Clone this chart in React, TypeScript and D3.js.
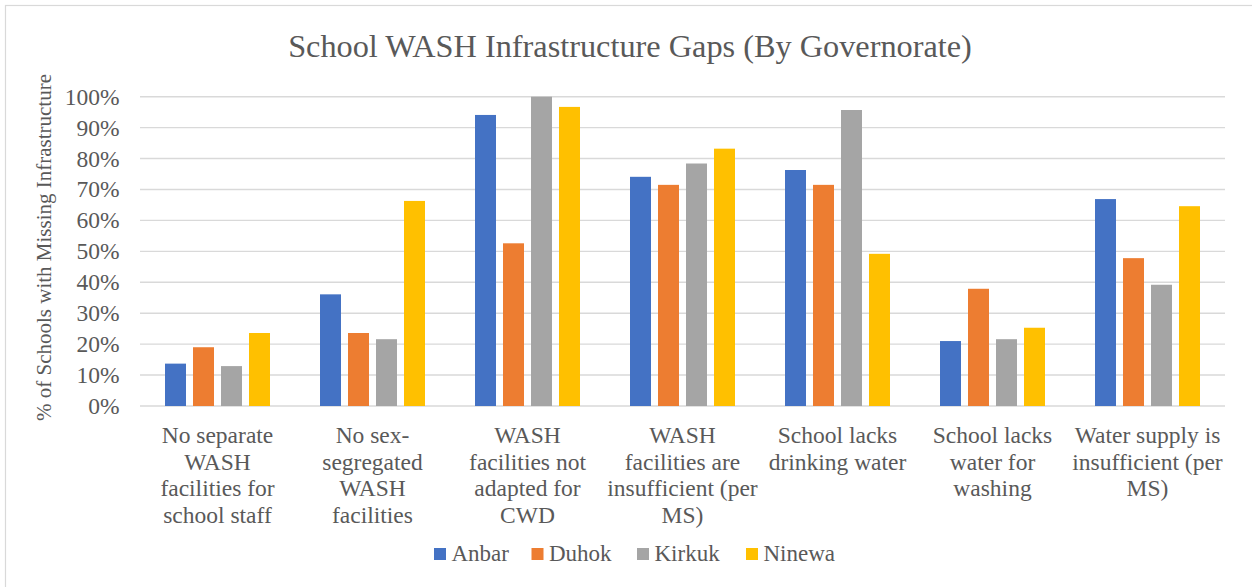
import React from "react";
import * as d3 from "d3";

const categories: string[][] = [
  ["No separate", "WASH", "facilities for", "school staff"],
  ["No sex-", "segregated", "WASH", "facilities"],
  ["WASH", "facilities not", "adapted for", "CWD"],
  ["WASH", "facilities are", "insufficient (per", "MS)"],
  ["School lacks", "drinking water"],
  ["School lacks", "water for", "washing"],
  ["Water supply is", "insufficient (per", "MS)"],
];

const seriesNames = ["Anbar", "Duhok", "Kirkuk", "Ninewa"];
const seriesColors = ["#4472C4", "#ED7D31", "#A5A5A5", "#FFC000"];

const anbar = [0.137, 0.361, 0.941, 0.741, 0.763, 0.21, 0.669];
const duhok = [0.19, 0.236, 0.526, 0.715, 0.715, 0.379, 0.478];
const kirkuk = [0.129, 0.216, 1.0, 0.784, 0.957, 0.216, 0.392];
const ninewa = [0.236, 0.663, 0.967, 0.832, 0.492, 0.253, 0.646];
const seriesValues = [anbar, duhok, kirkuk, ninewa];

const yTicks = [0, 0.1, 0.2, 0.3, 0.4, 0.5, 0.6, 0.7, 0.8, 0.9, 1.0];

const W = 1252;
const H = 587;
const TEXT = "#595959";

function T(props: any) {
  const { children, style, ...rest } = props;
  return (
    <text fontFamily="Times New Roman" style={{ fontFamily: "Times New Roman", ...(style || {}) }} {...rest}>
      {children}
    </text>
  );
}

export default function App() {
  const left = 140;
  const right = 1225;
  const top = 96.7;
  const bottom = 406;

  const catKeys = categories.map((_, i) => String(i));
  const x0 = d3
    .scaleBand<string>()
    .domain(catKeys)
    .range([left, right])
    .paddingInner(0.2774)
    .paddingOuter(0.1387);
  const x1 = d3
    .scaleBand<string>()
    .domain(seriesNames)
    .range([0, x0.bandwidth()])
    .paddingInner(0.25)
    .paddingOuter(0.125);
  const y = d3.scaleLinear().domain([0, 1]).range([bottom, top]);
  const fmt = d3.format(".0%");

  const legendX = [434, 531.5, 637, 746];

  return (
    <svg width={W} height={H} style={{ position: "absolute", left: 0, top: 0 }}>
      <rect x={5.5} y={5.5} width={W + 20} height={H + 20} fill="none" stroke="#d9d9d9" strokeWidth={1.2} />
      <T x={630} y={57} textAnchor="middle" fontSize={32.3} fill={TEXT}>
        School WASH Infrastructure Gaps (By Governorate)
      </T>
      {yTicks.map((t) => (
        <g key={t}>
          <line x1={left} x2={right} y1={y(t)} y2={y(t)} stroke="#d9d9d9" strokeWidth={1.4} />
          <T x={119.5} y={y(t) + 8} textAnchor="end" fontSize={23.5} fill={TEXT}>
            {fmt(t)}
          </T>
        </g>
      ))}
      <T transform={`translate(51, 247.5) rotate(-90)`} textAnchor="middle" fontSize={21} fill={TEXT}>
        % of Schools with Missing Infrastructure
      </T>
      {catKeys.map((c, ci) => (
        <g key={c} transform={`translate(${x0(c)},0)`}>
          {seriesNames.map((s, si) => {
            const v = seriesValues[si][ci];
            return (
              <rect
                key={s}
                x={x1(s)}
                y={y(v)}
                width={x1.bandwidth()}
                height={bottom - y(v)}
                fill={seriesColors[si]}
              />
            );
          })}
        </g>
      ))}
      {categories.map((lines, ci) => {
        const cx = (x0(String(ci)) as number) + x0.bandwidth() / 2;
        return (
          <T key={ci} textAnchor="middle" fontSize={23.5} fill={TEXT}>
            {lines.map((ln, li) => (
              <tspan key={li} x={cx} y={443 + li * 26.7}>
                {ln}
              </tspan>
            ))}
          </T>
        );
      })}
      {seriesNames.map((s, si) => (
        <g key={s}>
          <rect x={legendX[si]} y={548} width={12} height={12} fill={seriesColors[si]} />
          <T x={legendX[si] + 17.5} y={561} fontSize={23} fill={TEXT}>
            {s}
          </T>
        </g>
      ))}
    </svg>
  );
}
